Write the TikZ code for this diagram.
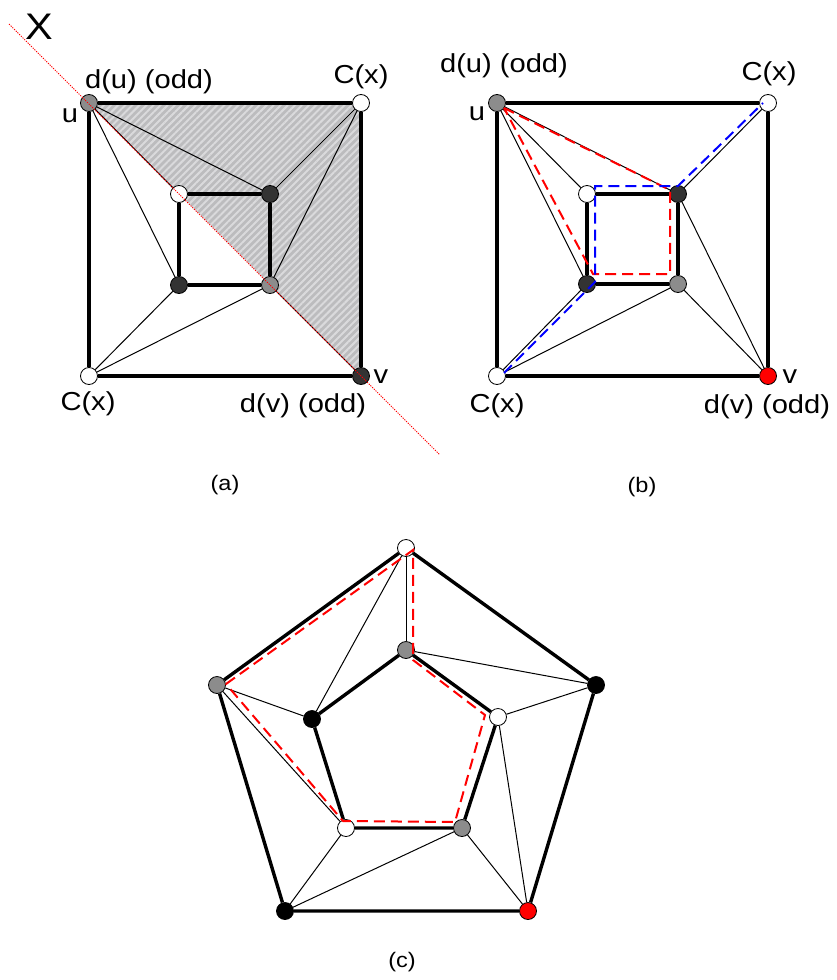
\documentclass[tikz,border=0pt]{standalone}
\usepackage{fontspec}
\setmainfont[FakeStretch=1.12]{Liberation Sans}
\usetikzlibrary{calc,patterns.meta,backgrounds}
\definecolor{midgray}{RGB}{140,140,140}
\definecolor{darkvtx}{RGB}{51,51,51}
\definecolor{hatchgray}{RGB}{188,188,190}
\definecolor{stripe}{RGB}{218,218,220}

\begin{document}
\begin{tikzpicture}[x=1pt,y=-1pt,
    vtx/.style={circle,draw,line width=0.8pt,inner sep=0pt,minimum size=17pt},
    bold/.style={line width=3.4pt},
    fine/.style={line width=1pt},
    lbl/.style={anchor=base,font=\fontsize{26}{30}\selectfont},
    sublbl/.style={font=\fontsize{21}{24}\selectfont},
    cyc/.style={dash pattern=on 11pt off 6pt,line width=2pt}]

    \useasboundingbox (0,0) rectangle (836,980);

    % (a) -- square, cut by the line X
    \node[vtx,fill=midgray] (au) at (89,103) {};
    \node[vtx,fill=white] (act) at (361,103) {};
    \node[vtx,fill=white] (acb) at (89,376) {};
    \node[vtx,fill=darkvtx] (av) at (361,376) {};
    \node[vtx,fill=white] (aitl) at (179,194) {};
    \node[vtx,fill=darkvtx] (aitr) at (270,194) {};
    \node[vtx,fill=darkvtx] (aibl) at (179,285) {};
    \node[vtx,fill=midgray] (aibr) at (270,285) {};

    \begin{scope}[on background layer]
        \fill[hatchgray] (au.center) -- (act.center) -- (av.center) -- cycle;
        \fill[pattern={Lines[angle=45,distance=5pt,line width=2pt]},pattern color=stripe]
            (au.center) -- (act.center) -- (av.center) -- cycle;
    \end{scope}

    \draw[bold] (au) -- (act) -- (av) -- (acb) -- (au);
    \draw[bold] (aitl) -- (aitr) -- (aibr) -- (aibl) -- (aitl);
    \draw[fine] (au) -- (aitl);
    \draw[fine] (au) -- (aitr);
    \draw[fine] (au) -- (aibl);
    \draw[fine] (act) -- (aitr);
    \draw[fine] (act) -- (aibr);
    \draw[fine] (acb) -- (aibl);
    \draw[fine] (acb) -- (aibr);
    \draw[fine] (aibr) -- (av);

    \coordinate (xs) at (9,24);
    \coordinate (xe) at (440,455);
    \draw[red,line width=0.9pt,dash pattern=on 1.2pt off 1.2pt] (xs) -- (xe);

    \node[lbl,font=\fontsize{37}{40}\selectfont] (ax) at (39,39) {X};
    \node[lbl] (alu) at (70,122) {u};
    \node[lbl] (ladu) at (149,88) {d(u) (odd)};
    \node[lbl] (lact) at (361,83) {C(x)};
    \node[lbl] (lacb) at (88,410) {C(x)};
    \node[lbl] (ladv) at (303,412) {d(v) (odd)};
    \node[lbl] (lav) at (381,383) {v};
    \node[sublbl] (capa) at (225,485) {(a)};

    % (b) -- the two cycles
    \node[vtx,fill=midgray] (bu) at (497,103) {};
    \node[vtx,fill=white] (bct) at (768,103) {};
    \node[vtx,fill=white] (bcb) at (497,376) {};
    \node[vtx,fill=red] (bv) at (768,376) {};
    \node[vtx,fill=white] (bitl) at (587,194) {};
    \node[vtx,fill=darkvtx] (bitr) at (678,194) {};
    \node[vtx,fill=darkvtx] (bibl) at (587,284) {};
    \node[vtx,fill=midgray] (bibr) at (678,284) {};

    \draw[bold] (bu) -- (bct) -- (bv) -- (bcb) -- (bu);
    \draw[bold] (bitl) -- (bitr) -- (bibr) -- (bibl) -- (bitl);
    \draw[fine] (bu) -- (bitl);
    \draw[fine] (bu) -- (bitr);
    \draw[fine] (bu) -- (bibl);
    \draw[fine] (bct) -- (bitr);
    \draw[fine] (bcb) -- (bibl);
    \draw[fine] (bcb) -- (bibr);
    \draw[fine] (bv) -- (bibr);
    \draw[fine] (bv) -- (bitr);

    \draw[cyc,red] ($(bu)+(7,5)$) -- ($(bitr)+(-8,-4)$) -- ($(bibr)+(-8,-10)$)
        -- ($(bibl)+(6,-10)$) -- cycle;
    \draw[cyc,blue] ($(bcb)+(7,-3)$) -- ($(bibl)+(8,-2)$) -- ($(bitl)+(8,-8)$)
        -- ($(bitr)+(0,-8)$) -- ($(bct)+(-5,0)$);

    \node[lbl] (lbu) at (477,120) {u};
    \node[lbl] (lbdu) at (504,72) {d(u) (odd)};
    \node[lbl] (lbct) at (769,80) {C(x)};
    \node[lbl] (lbcb) at (497,412) {C(x)};
    \node[lbl] (lbdv) at (767,413) {d(v) (odd)};
    \node[lbl] (lbv) at (790,383) {v};
    \node[sublbl] (capb) at (642,487) {(b)};

    % (c) -- pentagons
    \node[vtx,fill=white] (co1) at (406,548) {};
    \node[vtx,fill=midgray] (co2) at (217,685) {};
    \node[vtx,fill=black] (co3) at (285,911) {};
    \node[vtx,fill=red] (co4) at (528,911) {};
    \node[vtx,fill=black] (co5) at (596,685) {};
    \node[vtx,fill=midgray] (ci1) at (406,650) {};
    \node[vtx,fill=black] (ci2) at (312,719) {};
    \node[vtx,fill=white] (ci3) at (346,828) {};
    \node[vtx,fill=midgray] (ci4) at (462,828) {};
    \node[vtx,fill=white] (ci5) at (498,717) {};

    \draw[bold] (co1) -- (co2) -- (co3) -- (co4) -- (co5) -- (co1);
    \draw[bold] (ci1) -- (ci2) -- (ci3) -- (ci4) -- (ci5) -- (ci1);
    \draw[fine] (co1) -- (ci1);
    \draw[fine] (co1) -- (ci2);
    \draw[fine] (co2) -- (ci2);
    \draw[fine] (co2) -- (ci3);
    \draw[fine] (co3) -- (ci3);
    \draw[fine] (co3) -- (ci4);
    \draw[fine] (co4) -- (ci4);
    \draw[fine] (co4) -- (ci5);
    \draw[fine] (co5) -- (ci5);
    \draw[fine] (co5) -- (ci1);

    \draw[cyc,red] ($(co2)+(9,-1)$) -- ($(co1)+(7,2)$) -- ($(ci1)+(7,10)$)
        -- ($(ci5)+(-13,-2)$) -- ($(ci4)+(-7,-6)$) -- ($(ci3)+(-3,-7)$) -- cycle;

    \node[sublbl] (capc) at (402,962) {(c)};
\end{tikzpicture}
\end{document}
